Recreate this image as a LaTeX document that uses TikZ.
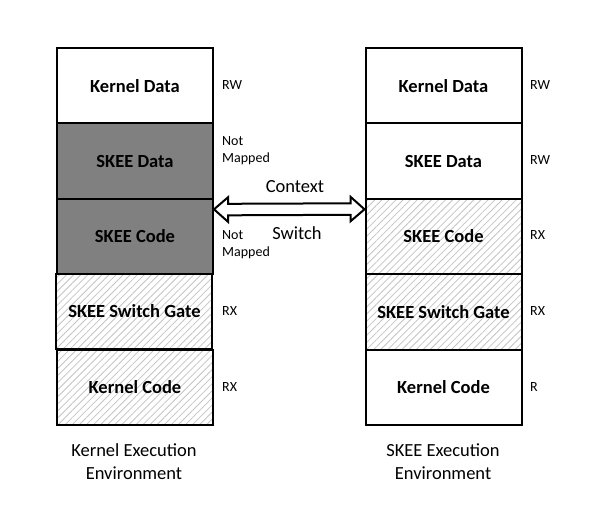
\documentclass[tikz,border=0pt]{standalone}
\usepackage{fontspec}
\setmainfont{Carlito}
\usetikzlibrary{patterns.meta}
\definecolor{darkfill}{HTML}{808080}
\definecolor{hatchgray}{HTML}{C4C4C4}
\begin{document}
\begin{tikzpicture}[x=1pt,y=-1pt,
  cell/.style={draw=black,line width=2pt,minimum width=156pt,minimum height=75.4pt,inner sep=0pt,font=\fontsize{18.5}{20}\selectfont\bfseries,anchor=north west},
  plain/.style={cell,fill=white},
  dark/.style={cell,fill=darkfill},
  hatch/.style={cell,pattern={Lines[angle=45,distance=5pt,line width=0.8pt]},pattern color=hatchgray},
  perm/.style={font=\fontsize{14}{17}\selectfont,align=left,anchor=west,inner sep=0pt},
  caption/.style={font=\fontsize{18.5}{23}\selectfont,align=center,anchor=center,inner sep=0pt},
  arrowtxt/.style={font=\fontsize{18.5}{20}\selectfont,inner sep=0pt}]
\useasboundingbox (0,0) rectangle (607,504);
\fill[white] (0,0) rectangle (607,504);
% left column
\node[plain] (l1) at (56,47) {Kernel Data};
\node[dark]  (l2) at (56,122.4) {SKEE Data};
\node[dark]  (l3) at (56,197.8) {SKEE Code};
\node[hatch] (l4) at (56,273.2) {SKEE Switch Gate};
\node[hatch] (l5) at (56,348.6) {Kernel Code};
% right column
\node[plain] (r1) at (364.5,47) {Kernel Data};
\node[plain] (r2) at (364.5,122.4) {SKEE Data};
\node[hatch] (r3) at (364.5,197.8) {SKEE Code};
\node[hatch] (r4) at (364.5,273.2) {SKEE Switch Gate};
\node[plain] (r5) at (364.5,348.6) {Kernel Code};
% permissions
\node[perm] (pl1) at (222,84.7) {RW};
\node[perm] (pl2) at (222,151) {Not\\Mapped};
\node[perm] (pl3) at (222,244.5) {Not\\Mapped};
\node[perm] (pl4) at (222,311.2) {RX};
\node[perm] (pl5) at (222,386.7) {RX};
\node[perm] (pr1) at (530,84.7) {RW};
\node[perm] (pr2) at (530,160.1) {RW};
\node[perm] (pr3) at (530,235.5) {RX};
\node[perm] (pr4) at (530,311.2) {RX};
\node[perm] (pr5) at (530,386.7) {R};
% captions
\node[caption] (cl) at (134,462) {Kernel Execution\\Environment};
\node[caption] (cr) at (443,462) {SKEE Execution\\Environment};
% double arrow
\coordinate (ta) at (l3.north east);
\coordinate (tb) at (r3.north west);
\draw[line width=2pt,fill=white,line join=miter]
  ([yshift=-11.5pt]ta) -- ++(14,-12) -- ++(0,6.5) -- ([xshift=-14pt,yshift=-5.5pt]tb) -- ++(0,-6.5) -- ([yshift=-11.5pt]tb)
  -- ++(-14,12) -- ++(0,-6.5) -- ([xshift=14pt,yshift=-17.5pt]ta) -- ++(0,6.5) -- cycle;
\node[arrowtxt] (ctx) at (295,187) {Context};
\node[arrowtxt] (sw) at (297,233) {Switch};
\end{tikzpicture}
\end{document}
